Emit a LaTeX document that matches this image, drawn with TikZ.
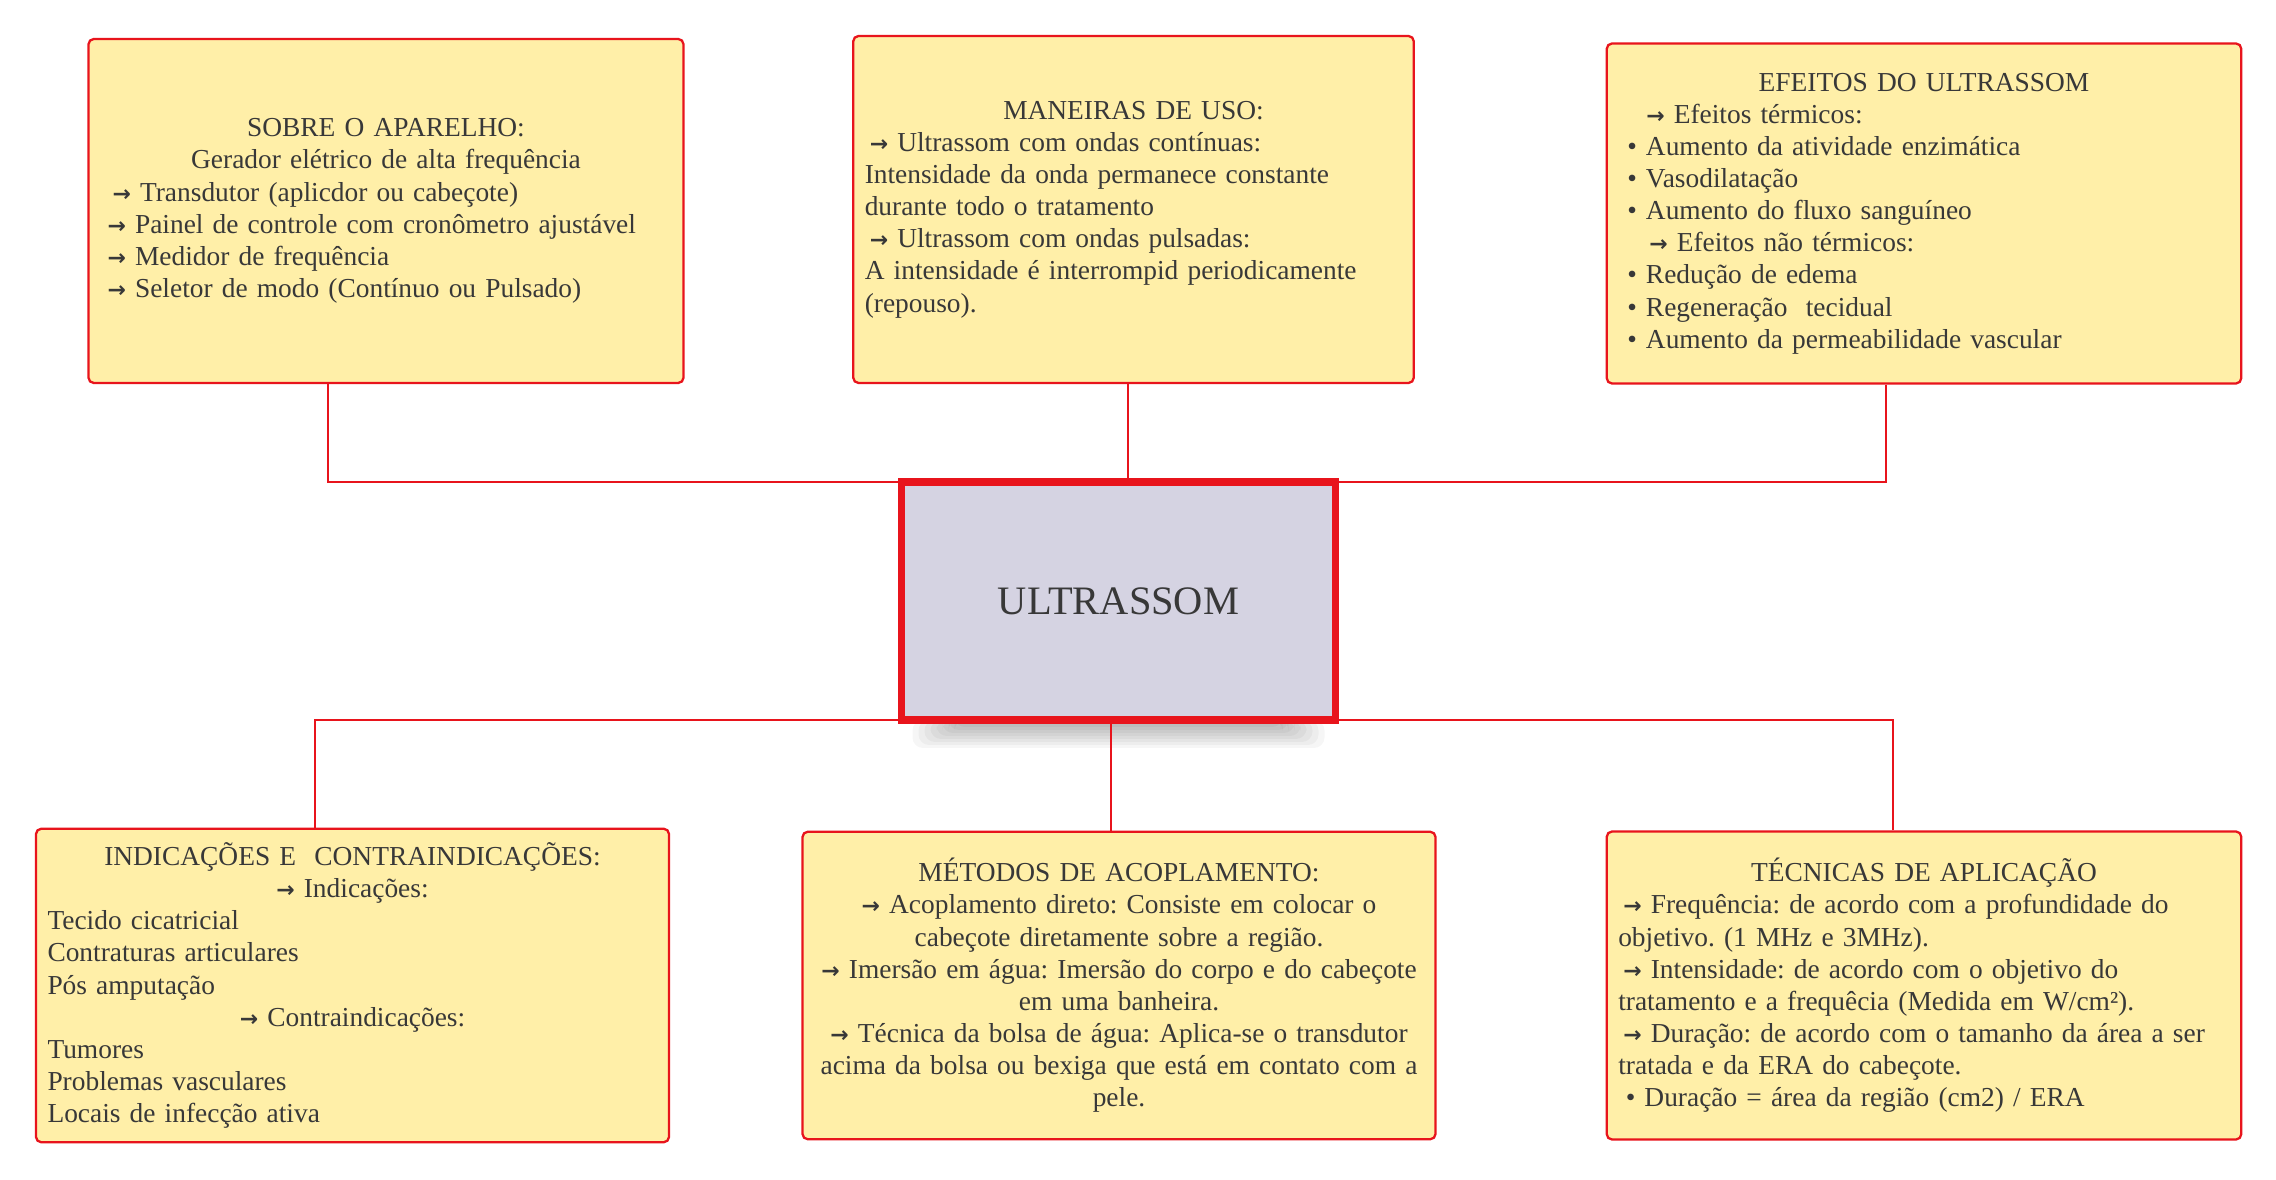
\documentclass[tikz,border=0pt]{standalone}
\usepackage{fontspec}
\setmainfont{Liberation Serif}
\newfontfamily\setas{DejaVu Sans}
\usepackage{xcolor}
\usetikzlibrary{positioning, calc, backgrounds}

\definecolor{cardfill}{HTML}{FFEFA8}
\definecolor{cardred}{HTML}{E8141C}
\definecolor{corefill}{HTML}{D5D3E2}
\definecolor{ink}{HTML}{383838}

\newcommand{\titulo}[1]{\makebox[\linewidth]{#1}}
\newcommand{\seta}{{\setas\bfseries\fontsize{12.5}{18.3}\selectfont →}}
\frenchspacing

\tikzset{
  card/.style={draw=cardred, fill=cardfill, line width=1.3pt, rounded corners=3pt,
    align=left, text=ink, inner ysep=0pt, font=\fontsize{15.6}{18.3}\selectfont},
  core/.style={draw=cardred, fill=corefill, line width=4pt, outer sep=0pt,
    minimum width=8.68cm, minimum height=4.76cm, text=ink,
    font=\fontsize{23}{27}\selectfont},
  link/.style={draw=cardred, line width=1.1pt}
}

\begin{document}
\begin{tikzpicture}
\useasboundingbox (0,0) rectangle (45.52,23.58);
\begin{scope}[on background layer]
\fill[white] (0,0) rectangle (45.52,23.58);
\end{scope}

% centre
\node[core] (centro) at (22.37,11.56) {ULTRASSOM};
% soft shadow below the centre
\begin{scope}[on background layer]
\foreach \k in {1,...,8} {
  \fill[black, opacity=0.035, rounded corners=6pt]
    ($(centro.south west)+(0.1+0.12*\k,0)$) rectangle ($(centro.south east)+(-0.1-0.12*\k,-0.62+0.06*\k)$);
}
\end{scope}

% top row
\node[card, text width=11.14cm, inner xsep=0.38cm, minimum height=6.88cm] (aparelho) at (7.72,19.36) {%
\titulo{SOBRE O APARELHO:}\\
\titulo{Gerador elétrico de alta frequência}\\
\hspace*{0.1cm}\seta\ Transdutor (aplicdor ou cabeçote)\\
\seta\ Painel de controle com cronômetro ajustável\\
\seta\ Medidor de frequência\\
\seta\ Seletor de modo (Contínuo ou Pulsado)};

\node[card, text width=10.75cm, inner xsep=0.23cm, minimum height=6.94cm] (maneiras) at (22.67,19.39) {%
\titulo{MANEIRAS DE USO:}\\
\hspace*{0.1cm}\seta\ Ultrassom com ondas contínuas:\\
Intensidade da onda permanece constante\\
durante todo o tratamento\\
\hspace*{0.1cm}\seta\ Ultrassom com ondas pulsadas:\\
A intensidade é interrompid periodicamente\\
(repouso).};

\node[card, text width=11.87cm, inner xsep=0.41cm, minimum height=6.80cm] (efeitos) at (38.48,19.31) {%
\titulo{EFEITOS DO ULTRASSOM}\\
\hspace*{0.38cm}\seta\ Efeitos térmicos:\\
• Aumento da atividade enzimática\\
• Vasodilatação\\
• Aumento do fluxo sanguíneo\\
\hspace*{0.44cm}\seta\ Efeitos não térmicos:\\
• Redução de edema\\
• Regeneração\ \ tecidual\\
• Aumento da permeabilidade vascular};

% bottom row
\node[card, text width=12.20cm, inner xsep=0.23cm, minimum height=6.27cm] (indicacoes) at (7.05,3.87) {%
\titulo{INDICAÇÕES E\ \ CONTRAINDICAÇÕES:}\\
\titulo{\seta\ Indicações:}\\
Tecido cicatricial\\
Contraturas articulares\\
Pós amputação\\
\titulo{\seta\ Contraindicações:}\\
Tumores\\
Problemas vasculares\\
Locais de infecção ativa};

\node[card, text width=12.30cm, inner xsep=0.18cm, minimum height=6.15cm] (metodos) at (22.38,3.87) {%
\titulo{MÉTODOS DE ACOPLAMENTO:}\\
\titulo{\seta\ Acoplamento direto: Consiste em colocar o}\\
\titulo{cabeçote diretamente sobre a região.}\\
\titulo{\seta\ Imersão em água: Imersão do corpo e do cabeçote}\\
\titulo{em uma banheira.}\\
\titulo{\seta\ Técnica da bolsa de água: Aplica-se o transdutor}\\
\titulo{acima da bolsa ou bexiga que está em contato com a}\\
\titulo{pele.}};

\node[card, text width=12.23cm, inner xsep=0.23cm, minimum height=6.16cm] (tecnicas) at (38.48,3.87) {%
\titulo{TÉCNICAS DE APLICAÇÃO}\\
\hspace*{0.1cm}\seta\ Frequência: de acordo com a profundidade do\\
objetivo. (1 MHz e 3MHz).\\
\hspace*{0.1cm}\seta\ Intensidade: de acordo com o objetivo do\\
tratamento e a frequêcia (Medida em W/cm²).\\
\hspace*{0.1cm}\seta\ Duração: de acordo com o tamanho da área a ser\\
tratada e da ERA do cabeçote.\\
\hspace*{0.15cm}• Duração = área da região (cm2) / ERA};

% connectors
\coordinate (m1) at ([xshift=-0.11cm]maneiras.south);
\coordinate (m2) at ([xshift=-0.16cm]metodos.north);
\draw[link] ([xshift=-1.16cm]aparelho.south) |- (centro.north west);
\draw[link] (m1) -- (m1 |- centro.north);
\draw[link] ([xshift=-0.76cm]efeitos.south) |- (centro.north east);
\draw[link] ([xshift=-0.75cm]indicacoes.north) |- (centro.south west);
\draw[link] (m2) -- (m2 |- centro.south);
\draw[link] ([xshift=-0.62cm]tecnicas.north) |- (centro.south east);
\end{tikzpicture}
\end{document}
